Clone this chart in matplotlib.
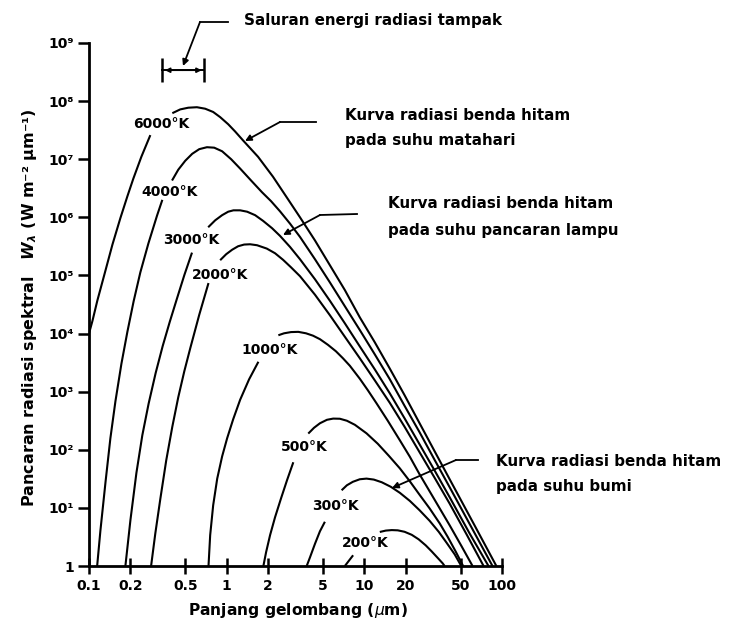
import matplotlib
matplotlib.use('Agg')
import matplotlib.pyplot as plt
from matplotlib.lines import Line2D
from matplotlib.patches import FancyArrowPatch
from matplotlib.ticker import NullLocator

nan = float('nan')

# ---- values: wavelength (µm) and spectral radiance W_lambda (W m^-2 µm^-1)
# nan marks the break in each curve where its temperature label sits
wl_6000 = [0.100, 0.106, 0.115, 0.132, 0.148, 0.169, 0.190, 0.210, 0.240, 0.279, nan,
           0.403, 0.460, 0.526, 0.608, 0.698, 0.798, 0.897, 1.026, 1.152, 1.317, 1.691, 2.17, 2.70, 3.41,
           4.38, 5.62, 7.22, 9.27, 11.9, 15.3, 19.6, 25.2, 41.7, 63.2, 91]
W_6000 = [1.0e4, 1.66e4, 3.7e4, 1.24e5, 3.4e5, 9.7e5, 2.3e6, 4.65e6, 1.1e7, 2.6e7, nan,
          6.2e7, 7.2e7, 7.7e7, 7.85e7, 7.4e7, 6.5e7, 5.3e7, 4.0e7, 3.0e7, 2.1e7, 1.1e7, 5.0e6, 2.3e6, 1.0e6,
          4.0e5, 1.5e5, 5.6e4, 1.9e4, 7.1e3, 2.5e3, 870, 286, 31, 5.0, 1.0]

wl_4000 = [0.1146, 0.121, 0.132, 0.143, 0.1556, 0.172, 0.190, 0.211, 0.236, 0.270, 0.312, 0.341, nan,
           0.401, 0.445, 0.500, 0.562, 0.632, 0.719, 0.812, 0.927, 1.078, 1.253, 1.505, 1.807, 2.10, 2.44,
           2.884, 3.41, 4.38, 5.62, 7.22, 9.27, 11.9, 15.3, 19.6, 25.2, 32.4, 41.7, 60.1, 85.3]
W_4000 = [1.0, 4.05, 28.7, 158, 684, 3.03e3, 1.07e4, 3.6e4, 1.13e5, 3.55e5, 1.07e6, 2.0e6, nan,
          4.3e6, 6.6e6, 9.4e6, 1.24e7, 1.49e7, 1.61e7, 1.58e7, 1.37e7, 1.0e7, 6.9e6, 4.3e6, 2.7e6, 1.9e6, 1.27e6,
          7.8e5, 4.6e5, 1.9e5, 7.6e4, 2.95e4, 1.15e4, 4.4e3, 1.64e3, 571, 200, 67, 22.6, 4.6, 1.0]

wl_3000 = [0.1838, 0.200, 0.221, 0.244, 0.271, 0.305, 0.343, 0.386, 0.434, 0.493, 0.560, nan,
           0.734, 0.826, 0.927, 1.026, 1.12, 1.253, 1.408, 1.609, 1.838, 2.137, 2.44, 2.884, 3.41, 4.38,
           5.62, 7.22, 9.27, 11.9, 15.3, 19.6, 25.2, 32.4, 41.7, 58.1, 79.8]
W_3000 = [1.0, 6.2, 40, 178, 621, 2.1e3, 6.1e3, 1.59e4, 3.9e4, 1.02e5, 2.47e5, nan,
          6.75e5, 8.9e5, 1.09e6, 1.25e6, 1.32e6, 1.32e6, 1.25e6, 1.09e6, 8.7e5, 6.5e5, 4.8e5, 3.1e5, 1.9e5, 8.6e4,
          3.67e4, 1.5e4, 6.0e3, 2.43e3, 939, 348, 124, 44, 15.2, 3.65, 1.0]

wl_2000 = [0.2825, 0.303, 0.330, 0.364, 0.403, 0.445, 0.492, 0.544, 0.632, 0.738, nan,
           0.897, 0.992, 1.096, 1.211, 1.339, 1.480, 1.663, 1.956, 2.246, 2.567, 2.934, 3.41, 4.38, 5.62,
           7.22, 9.27, 11.9, 15.3, 19.6, 25.2, 32.4, 41.7, 55.3, 73.5]
W_2000 = [1.0, 3.6, 14.5, 66, 250, 801, 2.23e3, 5.6e3, 2.1e4, 7.4e4, nan,
          1.83e5, 2.32e5, 2.77e5, 3.18e5, 3.4e5, 3.44e5, 3.31e5, 2.9e5, 2.41e5, 1.86e5, 1.38e5, 9.7e4, 4.66e4, 2.07e4,
          8.8e3, 3.76e3, 1.57e3, 644, 249, 90.6, 33, 11.8, 3.5, 1.0]

wl_1000 = [0.738, 0.759, 0.798, 0.854, 0.927, 1.008, 1.115, 1.253, 1.455, 1.70, nan,
           2.374, 2.61, 2.934, 3.313, 3.77, 4.235, 4.76, 5.44, 6.22, 6.99, 7.85, 9.27, 10.6, 12.26, 14.8,
           18.1, 21.4, 25.2, 32.4, 41.7, 50.9, 61.1]
W_1000 = [1.0, 3.4, 11.1, 32, 77, 158, 335, 726, 1.63e3, 3.27e3, nan,
          9.35e3, 1.01e4, 1.06e4, 1.07e4, 1.01e4, 9.2e3, 8.0e3, 6.4e3, 4.95e3, 3.76e3, 2.79e3, 1.67e3, 1.06e3, 631, 316,
          146, 76, 37.8, 13.8, 5.0, 2.18, 1.0]

wl_500 = [1.848, 1.933, 2.067, 2.246, 2.483, 2.744, 3.049, nan,
          3.915, 4.31, 4.76, 5.35, 5.94, 6.64, 7.47, 8.54, 10.37, 12.52, 15.05, 18.1, 21.4, 25.2, 29.8, 35.3,
          40.3, 46.0, 52.2]
W_500 = [1.0, 1.72, 3.4, 6.9, 14.6, 29.9, 61, nan,
         190, 239, 286, 328, 344, 342, 316, 269, 192, 127, 79, 48, 28.7, 16.8, 9.8, 5.4,
         3.18, 1.79, 1.0]

wl_300 = [3.813, 4.03, 4.38, 4.76, 5.17, nan,
          6.84, 7.47, 8.25, 9.27, 10.37, 11.72, 13.39, 15.56, 18.1, 21.4, 25.2, 29.8, 34.7, 39.6, 45.3, 50.6]
W_300 = [1.0, 1.41, 2.41, 3.96, 5.77, nan,
         20.1, 24.5, 28.1, 31.1, 31.9, 30.7, 27.6, 23.1, 18.2, 13.2, 9.1, 6.0, 3.88, 2.51, 1.59, 1.0]

wl_200 = [7.22, 7.72, 8.29, nan,
          12.95, 14.32, 15.82, 17.49, 19.6, 22.1, 24.8, 27.9, 30.8, 34.1, 37.1, 38.3]
W_200 = [1.0, 1.23, 1.53, nan,
         3.85, 4.07, 4.15, 4.11, 3.88, 3.44, 2.88, 2.27, 1.79, 1.38, 1.11, 1.0]

temp_labels = ['6000°K', '4000°K', '3000°K', '2000°K', '1000°K', '500°K', '300°K', '200°K']

visible_band = [0.34, 0.69]   # µm, bracket "Saluran energi radiasi tampak"
visible_level = 3.4e8

x_ticks = [0.1, 0.2, 0.5, 1, 2, 5, 10, 20, 50, 100]
x_ticklabels = ['0.1', '0.2', '0.5', '1', '2', '5', '10', '20', '50', '100']
y_ticks = [1, 1e1, 1e2, 1e3, 1e4, 1e5, 1e6, 1e7, 1e8, 1e9]
y_ticklabels = ['1', '10¹', '10²', '10³', '10⁴', '10⁵', '10⁶', '10⁷', '10⁸', '10⁹']

# ---- figure
FW, FH = 736, 628
fig = plt.figure(figsize=(FW / 100, FH / 100), dpi=100)
fig.patch.set_facecolor('white')


def F(px, py):
    """figure-pixel position (from top-left) -> figure fraction"""
    return px / FW, 1 - py / FH


ax = fig.add_axes([89 / FW, 1 - 566 / FH, (502 - 89) / FW, (566 - 43) / FH])
ax.set_xscale('log')
ax.set_yscale('log')
ax.set_xlim(0.1, 100)
ax.set_ylim(1, 1e9)

curves = [(wl_6000, W_6000), (wl_4000, W_4000), (wl_3000, W_3000), (wl_2000, W_2000),
          (wl_1000, W_1000), (wl_500, W_500), (wl_300, W_300), (wl_200, W_200)]
for wl, W in curves:
    ax.plot(wl, W, color='black', lw=1.5, solid_joinstyle='round', solid_capstyle='butt')

for s in ['top', 'right']:
    ax.spines[s].set_visible(False)
for s in ['left', 'bottom']:
    ax.spines[s].set_linewidth(2.0)

ax.set_xticks(x_ticks)
ax.set_xticklabels(x_ticklabels)
ax.set_yticks(y_ticks)
ax.set_yticklabels(y_ticklabels)
ax.xaxis.set_minor_locator(NullLocator())
ax.yaxis.set_minor_locator(NullLocator())
ax.tick_params(axis='x', direction='inout', length=11, width=1.8, pad=4, labelsize=10)
ax.tick_params(axis='y', direction='out', length=8, width=1.8, pad=3, labelsize=10)
for lab in ax.get_xticklabels() + ax.get_yticklabels():
    lab.set_fontweight('bold')

# temperature labels (pixel centres in the reference)
label_pos = [(161, 124), (170, 192), (191, 240), (220, 275), (270, 350), (304, 447), (335, 506), (365, 543)]
for txt, (px, py) in zip(temp_labels, label_pos):
    fig.text(*F(px, py), txt, ha='center', va='center', fontsize=10, fontweight='bold')

# visible band bracket
ax.plot(visible_band, [visible_level, visible_level], color='black', lw=1.4)
ax.plot(visible_band, [visible_level, visible_level], ls='none', marker='|', ms=17, mew=1.8, color='black')
for end in visible_band:
    ax.annotate('', xy=(end, visible_level), xytext=(0.48, visible_level),
                arrowprops=dict(arrowstyle='-|>', lw=1.2, color='black', mutation_scale=7,
                                shrinkA=0, shrinkB=2))


def leader(points):
    xs = [p[0] / FW for p in points]
    ys = [1 - p[1] / FH for p in points]
    fig.add_artist(Line2D(xs[:-1], ys[:-1], color='black', lw=1.3, transform=fig.transFigure))
    fig.add_artist(FancyArrowPatch((xs[-2], ys[-2]), (xs[-1], ys[-1]), transform=fig.transFigure,
                                   arrowstyle='-|>', mutation_scale=9, lw=1.3, color='black',
                                   shrinkA=0, shrinkB=0))


leader([(228, 22), (200, 22), (183, 66)])
leader([(316, 122), (280, 122), (245, 141)])
leader([(357, 214), (320, 215), (283, 235)])
leader([(478, 460), (456, 460), (392, 488)])

tkw = dict(ha='left', va='center', fontsize=10.9, fontweight='bold')
fig.text(*F(244, 21), 'Saluran energi radiasi tampak', **tkw)
fig.text(*F(345, 115), 'Kurva radiasi benda hitam', **tkw)
fig.text(*F(345, 141), 'pada suhu matahari', **tkw)
fig.text(*F(388, 204), 'Kurva radiasi benda hitam', **tkw)
fig.text(*F(388, 231), 'pada suhu pancaran lampu', **tkw)
fig.text(*F(496, 462), 'Kurva radiasi benda hitam', **tkw)
fig.text(*F(496, 487), 'pada suhu bumi', **tkw)

fig.text(*F(30, 308), 'Pancaran radiasi spektral   ' + r'$\mathbfit{W}_{\mathbfit{\lambda}}$' + ' (W m⁻² µm⁻¹)',
         rotation=90, ha='center', va='center', fontsize=11.5, fontweight='bold')
fig.text(*F(298, 611), 'Panjang gelombang (' + r'$\mu$' + 'm)', ha='center', va='center',
         fontsize=11.2, fontweight='bold')

fig.savefig('out.png', dpi=100, facecolor='white')
